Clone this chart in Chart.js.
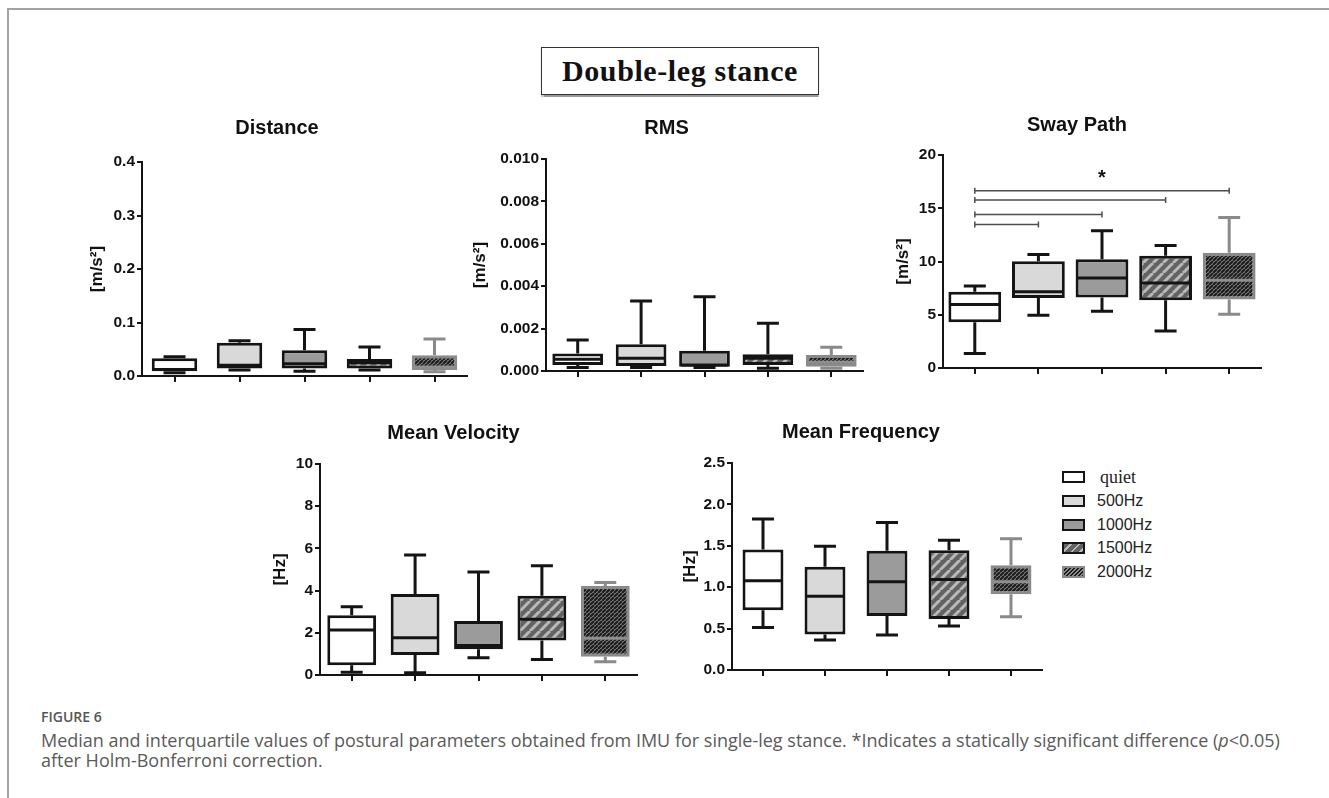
<!DOCTYPE html>
<html>
<head>
<meta charset="utf-8">
<script src="https://cdn.jsdelivr.net/npm/chart.js@4.4.0/dist/chart.umd.min.js"></script>
<style>
html,body{margin:0;padding:0;background:#fff;}
#page{position:relative;width:1329px;height:798px;overflow:hidden;background:#fff;font-family:"Liberation Sans",Arial,sans-serif;}
.frameTop{position:absolute;left:7px;top:8px;width:1322px;height:2px;background:#a3a3a3;}
.frameLeft{position:absolute;left:7px;top:8px;width:2px;height:790px;background:#a3a3a3;}
#mainTitle{position:absolute;left:541px;top:47px;width:276px;height:46px;border:1.5px solid #333;box-shadow:0 1.5px 1px #999;
  font-family:"Liberation Serif","Times New Roman",serif;font-weight:bold;font-size:30px;letter-spacing:0.6px;line-height:46px;text-align:center;color:#111;white-space:nowrap;}
canvas{position:absolute;}
.lg{position:absolute;height:24px;line-height:24px;white-space:nowrap;color:#222;font-size:16px;}
.sw{position:absolute;left:1062px;width:19px;height:8px;border:2.5px solid #151515;}
#figLabel{position:absolute;left:41px;top:707px;font-family:"Open Sans","Noto Sans",sans-serif;font-weight:600;font-size:14px;line-height:20px;color:#555;}
#caption{position:absolute;left:41px;top:730px;width:1285px;font-family:"Open Sans","Noto Sans",sans-serif;font-size:18px;line-height:20px;color:#5a5a5a;white-space:nowrap;}
</style>
</head>
<body>
<div id="page">
  <div class="frameTop"></div>
  <div class="frameLeft"></div>
  <div id="mainTitle">Double-leg stance</div>
  <canvas id="cDistance"></canvas>
  <canvas id="cRms"></canvas>
  <canvas id="cSway"></canvas>
  <canvas id="cVelocity"></canvas>
  <canvas id="cFrequency"></canvas>
  <div id="legend"></div>
  <div id="figLabel">FIGURE 6</div>
  <div id="caption">Median and interquartile values of postural parameters obtained from IMU for single-leg stance. *Indicates a statically significant difference (<i>p</i>&lt;0.05)<br>after Holm-Bonferroni correction.</div>
</div>
<script>
// ---------------- DATA ----------------
const categories = ['quiet', '500Hz', '1000Hz', '1500Hz', '2000Hz'];

const distanceMin    = [0.006, 0.011, 0.009, 0.011, 0.008];
const distanceQ1     = [0.009, 0.014, 0.014, 0.014, 0.011];
const distanceMedian = [0.012, 0.020, 0.023, 0.025, 0.017];
const distanceQ3     = [0.033, 0.062, 0.048, 0.032, 0.039];
const distanceMax    = [0.036, 0.066, 0.087, 0.054, 0.069];
const distanceTicks  = ['0.0', '0.1', '0.2', '0.3', '0.4'];

const rmsMin    = [0.00016, 0.00016, 0.00016, 0.00013, 0.00013];
const rmsQ1     = [0.00028, 0.00024, 0.00020, 0.00028, 0.00020];
const rmsMedian = [0.00055, 0.00060, 0.00028, 0.00060, 0.00041];
const rmsQ3     = [0.00083, 0.00126, 0.00096, 0.00079, 0.00075];
const rmsMax    = [0.00146, 0.00330, 0.00350, 0.00225, 0.00112];
const rmsTicks  = ['0.000', '0.002', '0.004', '0.006', '0.008', '0.010'];

const swayMin    = [1.35, 4.95, 5.33, 3.48, 5.05];
const swayQ1     = [4.29, 6.58, 6.61, 6.36, 6.43];
const swayMedian = [5.96, 7.15, 8.46, 7.99, 8.24];
const swayQ3     = [7.15, 10.03, 10.22, 10.53, 10.81];
const swayMax    = [7.71, 10.66, 12.88, 11.50, 14.14];
const swayTicks  = ['0', '5', '10', '15', '20'];
// significance brackets (from category index, to category index, height)
const swaySigFrom = [0, 0, 0, 0];
const swaySigTo   = [4, 3, 2, 1];
const swaySigY    = [16.65, 15.77, 14.42, 13.48];
const swayStarCategory = 2;
const swayStarY = 18.2;

const velocityMin    = [0.13, 0.11, 0.82, 0.74, 0.63];
const velocityQ1     = [0.46, 0.95, 1.22, 1.63, 0.87];
const velocityMedian = [2.13, 1.77, 1.40, 2.64, 1.74];
const velocityQ3     = [2.83, 3.84, 2.56, 3.76, 4.22];
const velocityMax    = [3.24, 5.69, 4.88, 5.18, 4.38];
const velocityTicks  = ['0', '2', '4', '6', '8', '10'];

const frequencyMin    = [0.514, 0.362, 0.422, 0.530, 0.643];
const frequencyQ1     = [0.723, 0.430, 0.651, 0.615, 0.916];
const frequencyMedian = [1.077, 0.892, 1.065, 1.093, 1.065];
const frequencyQ3     = [1.455, 1.246, 1.440, 1.447, 1.266];
const frequencyMax    = [1.825, 1.495, 1.780, 1.567, 1.584];
const frequencyTicks  = ['0.0', '0.5', '1.0', '1.5', '2.0', '2.5'];

// ---------------- STYLE ----------------
Chart.defaults.font.family = '"Liberation Sans", Arial, sans-serif';
Chart.defaults.color = '#111';

function stripePattern(bg, fg, size, lw) {
  const c = document.createElement('canvas');
  c.width = size; c.height = size;
  const g = c.getContext('2d');
  g.fillStyle = bg; g.fillRect(0, 0, size, size);
  g.strokeStyle = fg; g.lineWidth = lw; g.beginPath();
  for (let k = -1; k <= 1; k++) { g.moveTo(k * size, size); g.lineTo(k * size + size, 0); }
  g.stroke();
  return g.createPattern(c, 'repeat');
}
const boxFills = ['#ffffff', '#d9d9d9', '#9b9b9b', stripePattern('#636363', '#b9b9b9', 10, 3), stripePattern('#8a8a8a', '#1c1c1c', 4, 2.2)];
const boxBorders = ['#141414', '#141414', '#141414', '#141414', '#8a8a8a'];
const medianColors = ['#141414', '#141414', '#141414', '#141414', '#8f8f8f'];

// panel geometry (page pixels)
const layout = {
  distance:  {plotLeft: 142, plotTop: 162, plotRight: 467, plotBottom: 376, labelX: 97,  titleX: 288,  titleY: 128, barPct: 0.70},
  rms:       {plotLeft: 546, plotTop: 159, plotRight: 863, plotBottom: 371, labelX: 480, titleX: 678,  titleY: 128, barPct: 0.80},
  sway:      {plotLeft: 943, plotTop: 155, plotRight: 1261, plotBottom: 368, labelX: 903, titleX: 1107, titleY: 125, barPct: 0.83},
  velocity:  {plotLeft: 320, plotTop: 464, plotRight: 637, plotBottom: 675, labelX: 280, titleX: 465,  titleY: 433, barPct: 0.77},
  frequency: {plotLeft: 732, plotTop: 463, plotRight: 1042, plotBottom: 670, labelX: 690, titleX: 870,  titleY: 432, barPct: 0.66}
};

function makeExtras(st, sig) {
  return {
    id: 'boxExtras',
    afterDatasetsDraw(chart) {
      const {ctx, scales: {x, y}} = chart;
      const meta = chart.getDatasetMeta(0);
      ctx.save();
      ctx.lineCap = 'butt';
      for (let i = 0; i < categories.length; i++) {
        const cx = x.getPixelForValue(i);
        const w = meta.data[i].width;
        const cap = 22;
        const yq1 = y.getPixelForValue(st.q1[i]);
        const yq3 = y.getPixelForValue(st.q3[i]);
        const ymin = y.getPixelForValue(st.min[i]);
        const ymax = y.getPixelForValue(st.max[i]);
        const ymed = y.getPixelForValue(st.med[i]);
        ctx.strokeStyle = boxBorders[i];
        ctx.lineWidth = 3;
        ctx.beginPath();
        ctx.moveTo(cx, yq3); ctx.lineTo(cx, ymax);
        ctx.moveTo(cx - cap / 2, ymax); ctx.lineTo(cx + cap / 2, ymax);
        ctx.moveTo(cx, yq1); ctx.lineTo(cx, ymin);
        ctx.moveTo(cx - cap / 2, ymin); ctx.lineTo(cx + cap / 2, ymin);
        ctx.stroke();
        ctx.strokeStyle = medianColors[i];
        ctx.beginPath();
        ctx.moveTo(cx - w / 2 + 2, ymed); ctx.lineTo(cx + w / 2 - 2, ymed);
        ctx.stroke();
      }
      if (sig) {
        ctx.strokeStyle = '#4d4d4d';
        ctx.lineWidth = 1.5;
        for (let k = 0; k < sig.from.length; k++) {
          const x1 = x.getPixelForValue(sig.from[k]);
          const x2 = x.getPixelForValue(sig.to[k]);
          const yy = y.getPixelForValue(sig.y[k]);
          ctx.beginPath();
          ctx.moveTo(x1, yy); ctx.lineTo(x2, yy);
          ctx.moveTo(x1, yy - 3); ctx.lineTo(x1, yy + 3);
          ctx.moveTo(x2, yy - 3); ctx.lineTo(x2, yy + 3);
          ctx.stroke();
        }
        ctx.fillStyle = '#111';
        ctx.font = 'bold 20px "Liberation Sans", Arial, sans-serif';
        ctx.textAlign = 'center';
        ctx.textBaseline = 'middle';
        ctx.fillText('*', x.getPixelForValue(sig.starCat), y.getPixelForValue(sig.starY) + 4);
      }
      ctx.restore();
    }
  };
}

function makePanel(canvasId, geo, title, yLabel, st, tickLabels, yMax, step, sig) {
  const titleLH = 24, labelHalf = 10.2, xH = 12;
  const CL = Math.round(geo.labelX - labelHalf);
  const CT = Math.round(geo.titleY - titleLH / 2);
  const W = Math.round(2 * (geo.titleX - CL));
  const H = Math.round(geo.plotBottom + xH - CT);
  const yW = geo.plotLeft - CL;
  const padRight = CL + W - geo.plotRight;
  const padTitle = geo.plotTop - CT - titleLH;
  const cv = document.getElementById(canvasId);
  cv.width = W; cv.height = H;
  cv.style.left = CL + 'px'; cv.style.top = CT + 'px';
  cv.style.width = W + 'px'; cv.style.height = H + 'px';
  return new Chart(cv, {
    type: 'bar',
    data: {
      labels: categories,
      datasets: [{
        data: st.q1.map((v, i) => [v, st.q3[i]]),
        backgroundColor: boxFills,
        borderColor: boxBorders,
        borderWidth: 3,
        borderSkipped: false,
        barPercentage: geo.barPct,
        categoryPercentage: 1
      }]
    },
    options: {
      responsive: false,
      animation: false,
      devicePixelRatio: 1,
      events: [],
      layout: {padding: {left: 0, top: 0, right: padRight, bottom: 0}},
      plugins: {
        legend: {display: false},
        tooltip: {enabled: false},
        title: {display: true, text: title, color: '#111', font: {size: 20, weight: 'bold'}, padding: {top: 0, bottom: padTitle}}
      },
      scales: {
        x: {
          offset: true,
          grid: {display: true, drawOnChartArea: false, drawTicks: true, tickLength: 6, color: '#141414', lineWidth: 2, offset: false},
          border: {display: true, color: '#141414', width: 2},
          ticks: {display: false},
          afterFit: s => { s.height = xH; }
        },
        y: {
          min: 0, max: yMax,
          grid: {display: true, drawOnChartArea: false, drawTicks: true, tickLength: 5, color: '#141414', lineWidth: 2},
          border: {display: true, color: '#141414', width: 2},
          ticks: {stepSize: step, padding: 2, color: '#111', font: {size: 15.5, weight: 'bold'}, callback: (v, i) => tickLabels[i]},
          title: {display: true, text: yLabel, color: '#111', font: {size: 17, weight: 'bold'}, padding: 0},
          afterFit: s => { s.width = yW; }
        }
      }
    },
    plugins: [makeExtras(st, sig)]
  });
}

makePanel('cDistance', layout.distance, 'Distance', '[m/s²]',
  {min: distanceMin, q1: distanceQ1, med: distanceMedian, q3: distanceQ3, max: distanceMax}, distanceTicks, 0.4, 0.1, null);
makePanel('cRms', layout.rms, 'RMS', '[m/s²]',
  {min: rmsMin, q1: rmsQ1, med: rmsMedian, q3: rmsQ3, max: rmsMax}, rmsTicks, 0.010, 0.002, null);
makePanel('cSway', layout.sway, 'Sway Path', '[m/s²]',
  {min: swayMin, q1: swayQ1, med: swayMedian, q3: swayQ3, max: swayMax}, swayTicks, 20, 5,
  {from: swaySigFrom, to: swaySigTo, y: swaySigY, starCat: swayStarCategory, starY: swayStarY});
makePanel('cVelocity', layout.velocity, 'Mean Velocity', '[Hz]',
  {min: velocityMin, q1: velocityQ1, med: velocityMedian, q3: velocityQ3, max: velocityMax}, velocityTicks, 10, 2, null);
makePanel('cFrequency', layout.frequency, 'Mean Frequency', '[Hz]',
  {min: frequencyMin, q1: frequencyQ1, med: frequencyMedian, q3: frequencyQ3, max: frequencyMax}, frequencyTicks, 2.5, 0.5, null);

// ---------------- LEGEND ----------------
const legendRowsY = [477, 501, 525, 548, 572];
const swatchCss = [
  'background:#ffffff;',
  'background:#d9d9d9;',
  'background:#9b9b9b;',
  'background:repeating-linear-gradient(135deg,#636363 0 4px,#b9b9b9 4px 6px);',
  'background:repeating-linear-gradient(135deg,#8a8a8a 0 1.2px,#1c1c1c 1.2px 2.8px);border-color:#8a8a8a;'
];
const legendEl = document.getElementById('legend');
categories.forEach((name, i) => {
  const sw = document.createElement('div');
  sw.className = 'sw';
  sw.style.cssText += 'top:' + (legendRowsY[i] - 6.5) + 'px;' + swatchCss[i];
  legendEl.appendChild(sw);
  const t = document.createElement('div');
  t.className = 'lg';
  t.textContent = name;
  t.style.top = (legendRowsY[i] - 12) + 'px';
  if (i === 0) {
    t.style.left = '1100px';
    t.style.fontFamily = '"Liberation Serif","Times New Roman",serif';
    t.style.fontSize = '18px';
  } else {
    t.style.left = '1097px';
  }
  legendEl.appendChild(t);
});
</script>
</body>
</html>
